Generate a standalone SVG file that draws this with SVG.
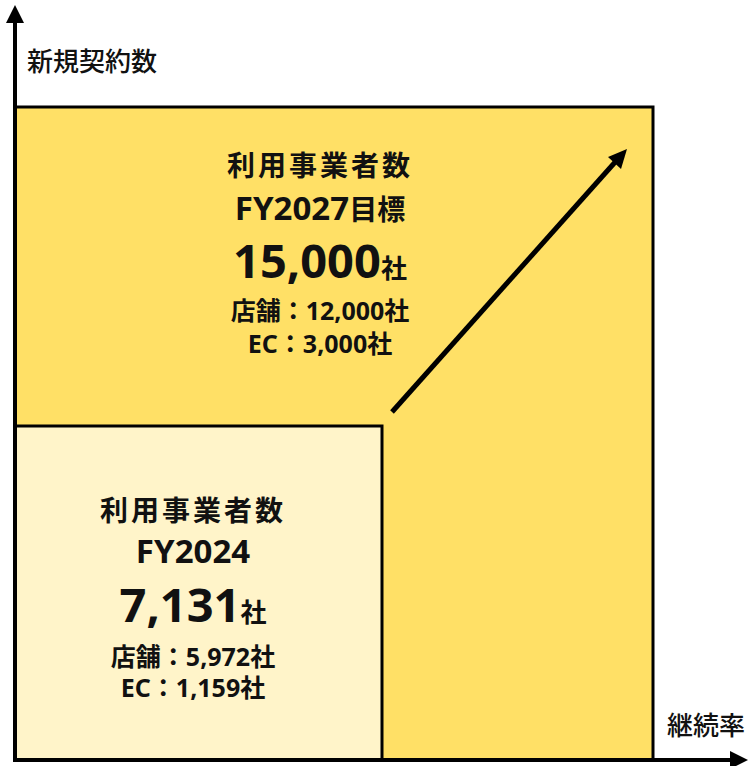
<svg xmlns="http://www.w3.org/2000/svg" width="749" height="766" viewBox="0 0 749 766">
<style>
text{font-family:"Noto Sans CJK JP","Noto Sans",sans-serif;fill:#111;font-weight:bold;text-anchor:middle}
.ax{font-size:26px;text-anchor:start;font-weight:500}
.t{font-size:28px;letter-spacing:3px}
.fy{font-size:28px}
.lat{font-family:"Noto Sans","Noto Sans CJK JP",sans-serif}
.fyl{font-size:33px}
.big{font-size:47px}
.unit{font-size:26px}
.s{font-size:25px}
</style>
<g id="target">
<rect x="15" y="107" width="638" height="653" fill="#FFE066" stroke="#000" stroke-width="3"/>
<text class="t" x="320" y="176">利用事業者数</text>
<text class="fy" x="320" y="220"><tspan class="lat fyl">FY2027</tspan>目標</text>
<text x="320" y="278"><tspan class="lat big">15,000</tspan><tspan class="unit">社</tspan></text>
<text class="s" x="320" y="320">店舗：<tspan class="lat">12,000</tspan>社</text>
<text class="s" x="320" y="353"><tspan class="lat">EC</tspan>：<tspan class="lat">3,000</tspan>社</text>
</g>
<g id="current">
<rect x="15" y="426" width="367" height="334" fill="#FFF4C9" stroke="#000" stroke-width="3"/>
<text class="t" x="193" y="521">利用事業者数</text>
<text class="lat fyl" x="193" y="563">FY2024</text>
<text x="193" y="622"><tspan class="lat big">7,131</tspan><tspan class="unit">社</tspan></text>
<text class="s" x="193" y="666">店舗：<tspan class="lat">5,972</tspan>社</text>
<text class="s" x="193" y="697"><tspan class="lat">EC</tspan>：<tspan class="lat">1,159</tspan>社</text>
</g>
<g id="axes">
<line x1="15" y1="762" x2="15" y2="20" stroke="#000" stroke-width="4"/>
<path d="M15,5 L24,23 L6,23 Z" fill="#000"/>
<line x1="13" y1="760" x2="734" y2="760" stroke="#000" stroke-width="4"/>
<path d="M748,760 L730,751 L730,769 Z" fill="#000"/>
<text class="ax" x="27" y="71">新規契約数</text>
<text class="ax" x="667" y="735">継続率</text>
</g>
<g id="connectors">
<line x1="392" y1="412" x2="617" y2="160" stroke="#000" stroke-width="5"/>
<path d="M627,149 L621,169 L608,157 Z" fill="#000"/>
</g>
</svg>
